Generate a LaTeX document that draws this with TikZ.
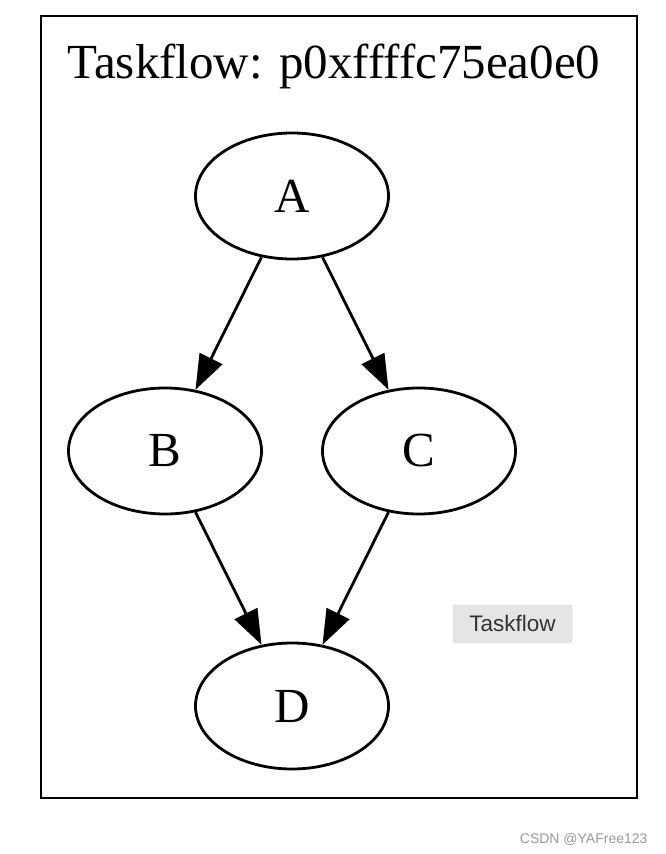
\documentclass[tikz,border=0pt]{standalone}
\usepackage{fontspec}
\setmainfont{Liberation Serif}
\newfontfamily\uifont{Liberation Sans}
\usetikzlibrary{shapes.geometric,arrows.meta,shadows}
\tikzset{
    task/.style={draw, ellipse, line width=2.8pt, minimum width=193pt, minimum height=126pt, inner sep=0pt, font=\fontsize{49pt}{58pt}\selectfont},
    dep/.style={line width=2.8pt, -{Triangle[length=35pt,width=25pt]}},
}
\begin{document}
\begin{tikzpicture}[x=1pt, y=-1pt]
    \useasboundingbox (0,0) rectangle (666,854);
    \draw[line width=2.8pt] (41,16) rectangle (637,798);
    \node[anchor=base, font=\fontsize{49pt}{58pt}\selectfont] (title) at (334,78) {Taskflow: p0xffffc75ea0e0};
    \node[task] (A) at (292,196) {A};
    \node[task] (B) at (165,451) {B};
    \node[task] (C) at (419,451) {C};
    \node[task] (D) at (292,706) {D};
    \draw[dep] (A) -- (B);
    \draw[dep] (A) -- (C);
    \draw[dep] (B) -- (D);
    \draw[dep] (C) -- (D);
    % hover label and watermark
    \node[draw=black!22, fill=black!10, rounded corners=2pt, drop shadow={opacity=0.15, shadow xshift=0pt, shadow yshift=-1.5pt},
        minimum width=119pt, minimum height=37pt, inner sep=0pt, text=black!80, font=\uifont\fontsize{22.5pt}{26pt}\selectfont] (tip) at (512.5,623.5) {Taskflow};
    \node[anchor=base east, text=black!40, font=\uifont\fontsize{14pt}{17pt}\selectfont] (mark) at (651,843) {CSDN @YAFree123};
\end{tikzpicture}
\end{document}
